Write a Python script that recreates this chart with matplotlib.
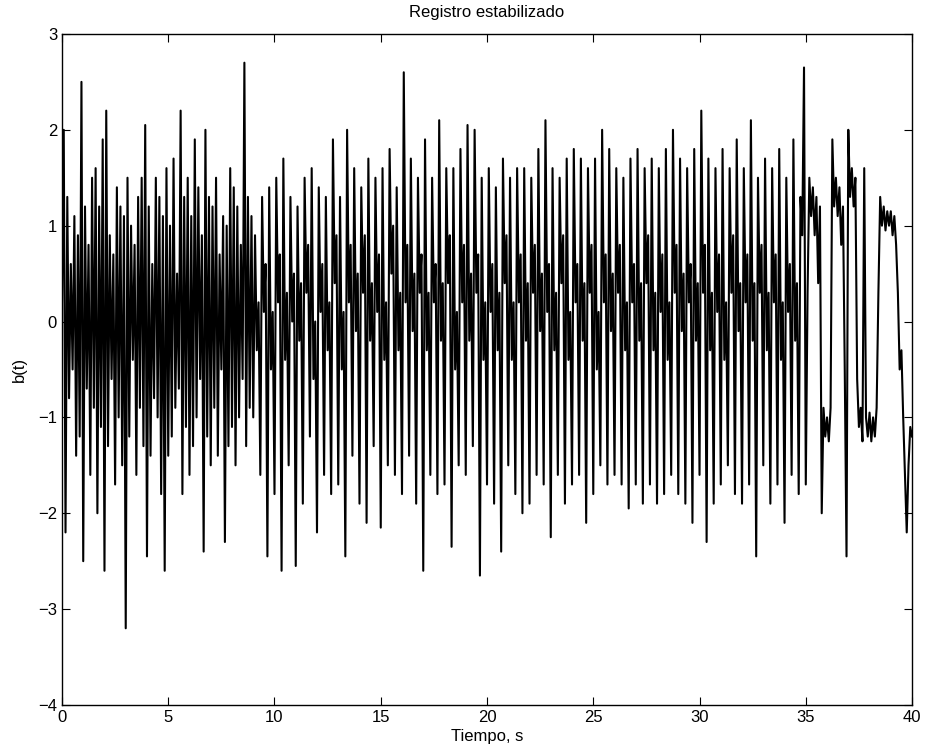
import numpy as np
import matplotlib
matplotlib.use("Agg")
import matplotlib.pyplot as plt

plt.rcParams['font.family'] = ['Liberation Sans', 'DejaVu Sans']

# Signal values, 12 samples per second (one row = one second)
b_values = [
    # 0-9 s (dense part)
    0.2, 2.0, -2.2, 1.3, -0.8, 0.6, -0.5, 1.1, -1.4, 0.9, -1.2, 2.5,
    -2.5, 1.2, -0.7, 0.8, -1.6, 1.5, -0.9, 1.6, -2.0, 1.2, -1.1, 1.9,
    -2.6, 2.2, -1.3, 0.9, -0.6, 0.7, -1.7, 1.4, -1.0, 1.2, -1.5, 1.1,
    -3.2, 1.5, -1.2, 1.0, -0.4, 0.8, -1.6, 1.3, -0.9, 1.5, -1.3, 2.05,
    -2.45, 1.2, -1.4, 0.6, -0.8, 1.5, -1.0, 1.3, -1.8, 1.1, -2.6, 1.6,
    -1.4, 1.0, -1.2, 1.7, -0.9, 0.5, -0.7, 2.2, -1.8, 1.3, -1.1, 1.5,
    -1.6, 1.1, -1.3, 1.9, -1.0, 1.4, -0.6, 0.9, -2.4, 2.0, -1.2, 1.3,
    -1.5, 1.2, -0.9, 1.5, -1.4, 0.7, -0.5, 1.1, -2.3, 1.0, -1.3, 1.6,
    -1.1, 1.4, -1.5, 1.2, -1.0, 0.8, -0.6, 2.7, -1.3, 1.3, -0.9, 1.1,
    # 9-35 s
    -1.0, 0.9, -0.3, 0.2, -1.6, 1.3, 0.1, 0.6, -2.45, 1.4, -0.5, 0.1,
    -1.8, 1.5, 0.2, 0.7, -2.6, 1.7, -0.4, 0.3, -1.5, 1.3, 0.0, 0.5,
    -2.55, 1.2, -0.2, 0.4, -1.9, 1.5, 0.3, 0.8, -1.2, 1.6, -0.6, 0.0,
    -2.2, 1.4, 0.1, 0.6, -1.6, 1.3, -0.3, 0.2, -1.8, 1.9, 0.4, 0.9,
    -1.7, 1.3, -0.5, 0.1, -2.45, 2.0, 0.2, 0.8, -1.4, 1.6, -0.1, 0.5,
    -1.9, 1.4, 0.3, 0.9, -2.1, 1.7, -0.2, 0.4, -1.3, 1.5, 0.1, 0.7,
    -2.15, 1.6, -0.4, 0.2, -1.5, 1.8, 0.5, 1.0, -1.6, 1.4, -0.3, 0.3,
    -1.8, 2.6, 0.2, 0.8, -1.4, 1.7, -0.1, 0.5, -1.9, 1.5, 0.3, 0.7,
    -2.6, 1.9, -0.3, 0.3, -1.6, 1.5, 0.2, 0.6, -1.8, 2.1, -0.2, 0.4,
    -1.7, 1.6, 0.4, 0.9, -2.35, 1.6, -0.5, 0.1, -1.5, 1.8, 0.2, 0.8,
    -1.6, 2.05, -0.2, 0.5, -1.3, 2.0, 0.3, 0.7, -2.65, 1.5, -0.4, 0.2,
    -1.7, 1.6, 0.1, 0.6, -1.9, 1.4, -0.3, 0.3, -2.4, 1.7, 0.4, 0.9,
    -1.5, 1.5, -0.4, 0.2, -1.8, 1.6, 0.2, 0.7, -2.0, 1.6, -0.2, 0.4,
    -1.9, 1.5, 0.3, 0.8, -1.6, 1.8, -0.1, 0.5, -1.7, 2.1, 0.1, 0.6,
    -2.25, 1.6, -0.3, 0.3, -1.6, 1.5, 0.4, 0.9, -1.9, 1.7, -0.4, 0.1,
    -1.7, 1.8, 0.2, 0.6, -1.6, 1.7, -0.2, 0.4, -2.1, 1.6, 0.3, 0.8,
    -1.8, 1.7, -0.5, 0.1, -1.5, 2.0, 0.2, 0.7, -1.7, 1.8, -0.1, 0.5,
    -1.6, 1.6, 0.3, 0.8, -1.7, 1.5, -0.3, 0.2, -1.95, 1.7, 0.2, 0.6,
    -1.7, 1.8, -0.2, 0.4, -1.9, 1.6, 0.4, 0.9, -1.7, 1.7, -0.3, 0.3,
    -1.9, 1.6, 0.1, 0.7, -1.8, 1.8, -0.4, 0.2, -1.6, 2.0, 0.3, 0.8,
    -1.8, 1.7, -0.1, 0.5, -1.9, 1.6, 0.2, 0.6, -2.1, 1.8, -0.2, 0.4,
    -1.6, 2.2, 0.3, 0.8, -2.3, 1.7, -0.3, 0.3, -1.9, 1.6, 0.1, 0.7,
    -1.7, 1.8, -0.4, 0.2, -1.5, 1.6, 0.3, 0.9, -1.8, 1.9, -0.1, 0.4,
    -1.9, 1.6, 0.2, 0.7, -1.7, 2.1, -0.2, 0.4, -2.45, 1.5, 0.3, 0.8,
    -1.5, 1.7, -0.3, 0.3, -1.9, 1.6, 0.2, 0.7, -1.7, 1.8, -0.4, 0.2,
    -2.1, 1.5, 0.1, 0.6, -1.6, 1.9, -0.2, 0.4, -1.8, 1.3, 0.9, 2.65,
    # 35-40 s (plateaus at the end of the record)
    -1.7, 0.3, 1.5, 1.1, 1.4, 0.9, 1.3, 0.4, 1.2, -2.0, -0.9, -1.2,
    -1.0, -1.25, -0.9, 1.9, 1.2, 1.5, 1.1, 1.4, 0.8, 1.2, -0.5, -2.45,
    2.0, 1.3, 1.6, 1.2, 1.5, -0.6, -1.1, -0.9, -1.25, 1.6, -1.0, -1.2,
    -0.95, -1.25, -1.0, -1.2, -0.9, 0.3, 1.3, 1.0, 1.2, 0.95, 1.15, 1.0,
    1.15, 0.9, 1.1, 0.8, 0.3, -0.5, -0.3, -1.0, -1.6, -2.2, -1.5, -1.1,
    -1.2,
]

title = "Registro estabilizado"
xlabel = "Tiempo, s"
ylabel = "b(t)"
xticks = [0, 5, 10, 15, 20, 25, 30, 35, 40]
yticks = [-4, -3, -2, -1, 0, 1, 2, 3]

t = np.linspace(0, 40, len(b_values))
b = np.array(b_values)

fig = plt.figure(figsize=(9.25, 7.51), dpi=100)
ax = fig.add_axes([0.067, 0.0613, 0.919, 0.8935])
ax.plot(t, b, color='black', linewidth=1.5)
ax.set_xlim(0, 40)
ax.set_ylim(-4, 3)
ax.set_xticks(xticks)
ax.set_yticks(yticks)
ax.tick_params(direction='in', top=True, right=True, length=6, labelsize=12)
for s in ax.spines.values():
    s.set_linewidth(1.0)
ax.set_title(title, fontsize=12, pad=12)
ax.set_xlabel(xlabel, fontsize=12, labelpad=3)
ax.set_ylabel(ylabel, fontsize=12, labelpad=8)

fig.savefig("out.png", dpi=100)
